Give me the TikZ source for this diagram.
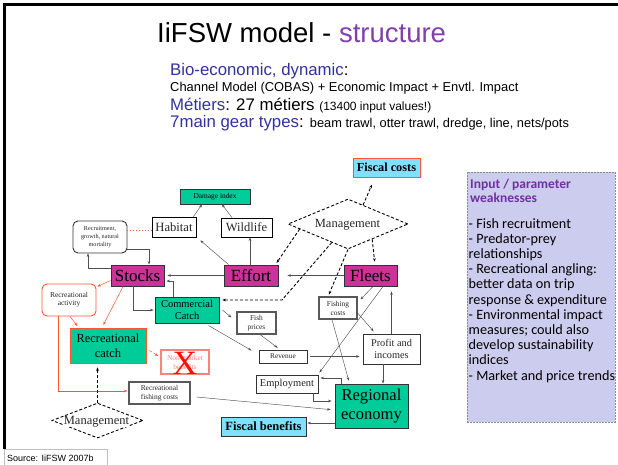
\documentclass[tikz,border=0pt]{standalone}
\usepackage{fontspec}
\setmainfont{Liberation Serif}
\newfontfamily\arialf{Liberation Sans}
\newfontfamily\calib{Carlito}
\usetikzlibrary{shapes.geometric,arrows.meta,calc}
\definecolor{mag}{HTML}{CC3399}
\definecolor{grn}{HTML}{00CC99}
\definecolor{lblue}{HTML}{80E0FF}
\definecolor{lav}{HTML}{CCCCEE}
\definecolor{ttlblue}{HTML}{333399}
\definecolor{ttlpurple}{HTML}{8040B0}
\definecolor{hdpurple}{HTML}{7030A0}
\definecolor{redl}{HTML}{FF5533}
\definecolor{pinkl}{HTML}{FF8080}
\definecolor{lineg}{HTML}{505050}
\definecolor{boxd}{HTML}{333333}
\newcommand{\myfs}[2]{\fontsize{#1pt}{#2pt}\selectfont}
\begin{document}
\begin{tikzpicture}[x=1pt,y=-1pt,
  sz/.style 2 args={minimum width=#1pt, minimum height=#2pt},
  box/.style={rectangle, draw=boxd, line width=0.9pt, fill=white, inner sep=0pt, align=center, text=black!85},
  small/.style={font=\myfs{7.4}{9}},
  magbox/.style={box, fill=mag, text=black, font=\myfs{17}{19}},
  grnbox/.style={box, fill=grn, text=black},
  conn/.style={draw=lineg, line width=0.45pt, -{Stealth[length=3.5pt,width=2.6pt]}},
  redconn/.style={draw=redl, line width=0.5pt, -{Stealth[length=3.5pt,width=2.6pt]}},
  reddot/.style={draw=redl, line width=1pt, dotted},
  dconn/.style={draw=black, line width=0.9pt, dash pattern=on 3pt off 2pt, -{Stealth[length=3.5pt,width=2.8pt]}},
  dline/.style={draw=black, line width=0.9pt, dash pattern=on 3pt off 2pt},
  lbl/.style={inner sep=0pt, anchor=base west}
]
\useasboundingbox (0,0) rectangle (618,464);
\fill[white] (0,0) rectangle (618,464);

% frame
\draw[line width=2.5pt, black] (4.5,449) -- (4.5,4.5) -- (618,4.5);
\draw[draw=black!25, line width=0.6pt] (4,449) rectangle (107,467);
\node[lbl, font=\arialf\myfs{9}{10}] (src) at (7,461) {Source: IiFSW 2007b};

% title and header
\node[lbl, font=\arialf\myfs{27.5}{30}] (title) at (157,42) {IiFSW model - \textcolor{ttlpurple}{structure}};
\node[lbl, font=\arialf\myfs{16.8}{18}] (sub1) at (170,75) {\textcolor{ttlblue}{Bio-economic, dynamic}:};
\node[lbl, font=\arialf\myfs{12.9}{14}] (sub2) at (170,91) {Channel Model (COBAS) + Economic Impact + Envtl. Impact};
\node[lbl, font=\arialf\myfs{16.8}{18}] (sub3) at (170,110) {\textcolor{ttlblue}{Métiers}: 27 métiers {\myfs{12}{13}(13400 input values!)}};
\node[lbl, font=\arialf\myfs{16.8}{18}] (sub4) at (170,127) {\textcolor{ttlblue}{7main gear types}: {\myfs{12.8}{14}beam trawl, otter trawl, dredge, line, nets/pots}};

% input box
\node[rectangle, fill=lav, draw=black!45, line width=0.6pt, dash pattern=on 2pt off 1pt, sz={148}{250}, inner sep=0pt] (inbox) at (541,297) {};
\node[lbl, font=\calib\bfseries\myfs{13.5}{14}, text=hdpurple] (ih1) at (470,188) {Input / parameter};
\node[lbl, font=\calib\bfseries\myfs{13.5}{14}, text=hdpurple] (ih2) at (470,202) {weaknesses};
\foreach \t [count=\i from 0] in {- Fish recruitment,- Predator-prey,relationships,- Recreational angling:,better data on trip,response \& expenditure,- Environmental impact,measures; could also,develop sustainability,indices,- Market and price trends}
  \node[lbl, font=\calib\myfs{14.2}{15}] (il\i) at (468.5,228+15.2*\i) {\t};

% diagram nodes
\node[box, fill=lblue, draw=redl, sz={67}{19}, font=\bfseries\myfs{12.3}{14}, text=black] (fiscalc) at (386.5,167.5) {Fiscal costs};
\node[diamond, dline, sz={120}{50}, inner sep=0pt] (mgmtT) at (348,224) {};
\node[inner sep=0pt, font=\myfs{12.5}{14}, text=black!85] (mgmtTl) at (347.5,225) {Management};
\node[grnbox, sz={70}{15}, small] (damage) at (215,196.5) {Damage index};
\node[box, sz={44}{20}, font=\myfs{12.6}{14}, draw=black, line width=0.7pt] (habitat) at (174,227) {Habitat};
\node[box, sz={51}{19}, font=\myfs{12.5}{14}, draw=black, line width=0.7pt] (wildlife) at (246.5,227.5) {Wildlife};
\node[box, sz={54}{32}, rounded corners=5pt, font=\myfs{6.2}{7.7}] (recruit) at (100,237) {Recruitment,\\growth, natural\\mortality};
\node[magbox, sz={53}{21}] (stocks) at (137.5,275.5) {Stocks};
\node[magbox, sz={54}{21}] (effort) at (251,275.5) {Effort};
\node[magbox, sz={53}{21}] (fleets) at (370.5,275.5) {Fleets};
\node[box, draw=redl, sz={54}{32}, rounded corners=5pt, font=\myfs{7.5}{8.2}] (recact) at (69,300) {Recreational\\activity};
\node[grnbox, sz={64}{26}, font=\myfs{10.5}{12}] (commercial) at (187,310) {Commercial\\Catch};
\node[box, sz={38}{22}, small, draw=black!65, line width=1.1pt] (fishcost) at (338,308) {Fishing\\costs};
\node[grnbox, draw=redl, sz={76}{35}, font=\myfs{12.4}{15}] (reccatch) at (108,345.5) {Recreational\\catch};
\node[box, sz={39}{22}, small, draw=black!65, line width=1.1pt] (fishprice) at (256.5,323) {Fish\\prices};
\node[box, draw=pinkl, line width=1.6pt, sz={48}{24}, small, text=pinkl] (nonmarket) at (185,362) {Non-market\\benefits};
\node[inner sep=0pt, font=\myfs{34}{34}, text=red!90!orange] (crossx) at (185,363) {X};
\node[box, sz={48}{13}, font=\myfs{7.3}{9}] (revenue) at (283,356.5) {Revenue};
\node[box, sz={57}{30}, font=\myfs{10.3}{12.5}] (profit) at (391.5,349) {Profit and\\incomes};
\node[box, sz={62}{18}, font=\myfs{10.5}{12}] (employment) at (287,384) {Employment};
\node[box, sz={61}{22}, small, draw=black!65, line width=1.1pt] (recfish) at (159.5,393) {Recreational\\fishing costs};
\node[grnbox, sz={73}{44}, font=\myfs{16.6}{19}] (regional) at (371.5,406) {Regional\\economy};
\node[box, fill=lblue, sz={85}{19}, font=\bfseries\myfs{12.5}{14}, text=black] (fiscalb) at (263.5,426.5) {Fiscal benefits};
\node[diamond, dline, sz={91}{35}, inner sep=0pt] (mgmtB) at (97.5,420.5) {};
\node[inner sep=0pt, font=\myfs{12.5}{14}, text=black!85, fill=white] (mgmtBl) at (96.5,421.5) {Management};

% connectors
\draw[conn] ([xshift=-3pt]habitat.north east) -- ([xshift=-13pt]damage.south);
\draw[conn] ([xshift=-14.5pt]wildlife.north) -- ([xshift=7pt]damage.south);
\draw[reddot] ([yshift=7pt]recruit.east) -- ([yshift=-3pt]habitat.west);
\draw[conn] ([xshift=5pt]effort.north west) -- ([xshift=4pt,yshift=-3pt]habitat.south east);
\draw[conn] ([xshift=-1pt]effort.north) -- ([xshift=3.5pt]wildlife.south);
\draw[conn] ([yshift=7.5pt]stocks.west) -| ([xshift=-12pt]recruit.south);
\draw[conn] ([yshift=-12pt]recruit.east) -| ([xshift=11.5pt]stocks.north);
\draw[conn, shorten >=3pt] (effort.west) -- (stocks.east);
\draw[conn, shorten >=9pt] (fleets.west) -- (effort.east);
\draw[conn, shorten >=2pt] ([xshift=-14pt]commercial.north) |- ([yshift=-5.5pt]stocks.east);
\draw[conn, shorten >=1pt] ([xshift=-4.5pt]stocks.south) |- (commercial.west);
\draw[redconn] ([yshift=6pt]stocks.south west) -- ([xshift=1pt,yshift=-3pt]recact.north east);
\draw[redconn, shorten >=3pt] ([xshift=-14.5pt]stocks.south) -- ([xshift=-6pt]reccatch.north);
\draw[redconn, shorten >=2pt] ([xshift=1pt]recact.south) -- ([xshift=9pt]reccatch.north west);
\draw[redconn, shorten >=1pt] ([xshift=-11pt]recact.south) |- ([yshift=2pt]recfish.west);
\draw[redconn, densely dashed] ([xshift=3pt,yshift=-5pt]reccatch.east) -- ([xshift=-2pt,yshift=6pt]nonmarket.west);
\draw[dconn, shorten >=4pt] (mgmtB.north) -- (mgmtB.north |- reccatch.south);
\draw[dconn, shorten >=8pt] ($(mgmtT.north)!0.25!(mgmtT.east)$) -- ([xshift=-11.5pt]fiscalc.south);
\draw[dconn, shorten >=2pt] ($(mgmtT.west)!0.2!(mgmtT.south)$) -- ([xshift=-3pt]effort.north east);
\coordinate (cbend) at (282,300);
\draw[dconn, shorten >=3pt] ($(mgmtT.west)!0.73!(mgmtT.south)$) -- (cbend) -- (cbend -| commercial.east);
\draw[dconn, shorten >=2pt] (mgmtT.south) -- ([xshift=-10pt]fishcost.north);
\draw[dconn, shorten >=3pt] ($(mgmtT.south)!0.4!(mgmtT.east)$) -- ([xshift=4.5pt]fleets.north);
\draw[conn] ([xshift=2.5pt]fleets.south) -- ([xshift=3pt,yshift=-3pt]fishcost.north east);
\draw[conn] ([xshift=12.5pt]fleets.south) -- ([xshift=1pt,yshift=2pt]employment.north east);
\draw[conn, shorten >=5pt] (profit.north) -- (profit.north |- fleets.south);
\draw[conn, shorten >=3pt] ([yshift=-5pt]fishcost.east) -- ([xshift=13pt]profit.north west);
\draw[conn, shorten >=3pt] ([xshift=-6pt]fishcost.south) -- ([xshift=15pt]regional.north west);
\draw[conn, shorten <=3pt, shorten >=3pt] (revenue.east) -- (revenue.east -| profit.west);
\draw[conn] ([xshift=-8.5pt]profit.south) -- ([xshift=11.5pt]regional.north);
\draw[conn, shorten >=2pt] ([xshift=7pt]regional.north west) |- ([yshift=6pt]employment.east);
\draw[conn, shorten >=3pt] ([xshift=-5pt]employment.south east) |- ([yshift=5pt]regional.west);
\draw[conn, shorten >=4pt] ([xshift=6pt,yshift=-4pt]recfish.east) -- ([yshift=-4pt]regional.west);
\draw[conn, shorten >=1pt] ([yshift=-17pt]regional.west) -- ([yshift=3.5pt]fiscalb.east);
\draw[conn] ([xshift=3pt]commercial.east) -- ([xshift=-5pt,yshift=-6pt]fishprice.north west);
\draw[conn, shorten >=3pt] ([xshift=3.5pt]fishprice.south) -- ([xshift=-3pt]revenue.north);
\draw[conn] ([xshift=-11pt,yshift=-2pt]commercial.south east) -- ([xshift=-7pt,yshift=6pt]revenue.west);
\end{tikzpicture}
\end{document}
